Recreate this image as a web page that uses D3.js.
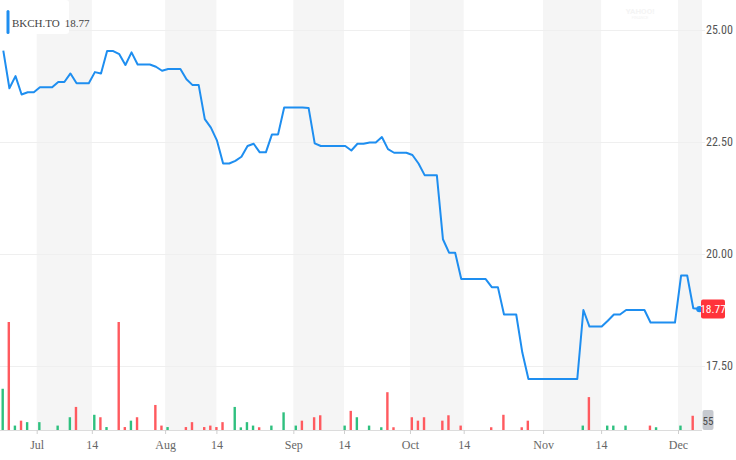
<!DOCTYPE html>
<html>
<head>
<meta charset="utf-8">
<script src="https://cdn.jsdelivr.net/npm/d3@7"></script>
<style>
  html, body { margin: 0; padding: 0; background: #fff; }
  svg { display: block; }
</style>
</head>
<body>
<div id="chart"></div>
<script>
// ---- Data ----
const symbol = "BKCH.TO";
const lastPrice = 18.77;
const lastVolumeLabel = "55";

// daily closing prices (trading days, Jun 22 .. Dec 6)
const prices = [
  24.54, 23.70, 23.97, 23.56, 23.61, 23.61, 23.72, 23.72, 23.72, 23.84,
  23.84, 24.03, 23.81, 23.81, 23.81, 24.06, 24.03, 24.53, 24.53, 24.46,
  24.22, 24.50, 24.23, 24.23, 24.23, 24.18, 24.09, 24.13, 24.13, 24.13,
  23.90, 23.77, 23.77, 23.01, 22.82, 22.53, 22.02, 22.02, 22.08, 22.17,
  22.41, 22.46, 22.27, 22.27, 22.67, 22.67, 23.27, 23.27, 23.27, 23.27,
  23.26, 22.47, 22.41, 22.41, 22.41, 22.41, 22.41, 22.31, 22.46, 22.46,
  22.49, 22.49, 22.61, 22.34, 22.26, 22.26, 22.26, 22.21, 22.02, 21.76,
  21.76, 21.76, 20.33, 20.03, 20.03, 19.44, 19.44, 19.44, 19.44, 19.44,
  19.26, 19.26, 18.65, 18.65, 18.65, 17.80, 17.21, 17.21, 17.21, 17.21,
  17.21, 17.21, 17.21, 17.21, 17.21, 18.75, 18.38, 18.38, 18.38, 18.51,
  18.65, 18.65, 18.75, 18.75, 18.75, 18.75, 18.47, 18.47, 18.47, 18.47,
  18.47, 19.52, 19.52, 18.79, 18.77
];

// daily volume (0 = no trades); direction: 1 up (green), -1 down (red)
const volumes = [
  420, 1100, 45, 95, 80, 0, 80, 0, 0, 45,
  0, 130, 235, 0, 0, 155, 130, 30, 0, 1100,
  30, 95, 130, 0, 0, 255, 45, 30, 0, 0,
  30, 80, 0, 30, 45, 30, 80, 0, 235, 27,
  80, 45, 28, 0, 45, 0, 180, 0, 45, 95,
  0, 130, 150, 0, 0, 0, 45, 195, 130, 0,
  45, 0, 28, 385, 28, 0, 0, 130, 95, 130,
  0, 0, 95, 150, 0, 45, 0, 0, 0, 0,
  28, 0, 155, 0, 0, 28, 95, 0, 0, 0,
  0, 0, 0, 0, 0, 45, 335, 0, 0, 45,
  45, 0, 45, 0, 0, 0, 45, 28, 0, 0,
  0, 45, 0, 145, 0
];
const volumeDir = [
  1, -1, 1, -1, 1, 0, 1, 0, 0, 1,
  0, 1, -1, 0, 0, 1, -1, 1, 0, -1,
  -1, 1, -1, 0, 0, -1, -1, 1, 0, 0,
  -1, -1, 0, -1, -1, -1, -1, 0, 1, 1,
  1, 1, -1, 0, 1, 0, 1, 0, 1, -1,
  0, -1, -1, 0, 0, 0, 1, -1, 1, 0,
  1, 0, 1, -1, -1, 0, 0, -1, -1, -1,
  0, 0, -1, -1, 0, -1, 0, 0, 0, 0,
  -1, 0, -1, 0, 0, -1, -1, 0, 0, 0,
  0, 0, 0, 0, 0, 1, -1, 0, 0, 1,
  1, 0, 1, 0, 0, 0, -1, 1, 0, 0,
  0, 1, 0, -1, 0
];

// x-axis ticks: labels and their positions (in trading-day index units)
const tickLabels = ["Jul", "14", "Aug", "14", "Sep", "14", "Oct", "14", "Nov", "14", "Dec"];
const tickIndex  = [5.47, 14.5, 26.5, 34.9, 47.5, 55.8, 66.6, 75.4, 88.4, 97.9, 110.5];

// y-axis ticks
const priceTicks = [17.5, 20, 22.5, 25];

// ---- Layout ----
const W = 736, H = 460;
const plotLeft = 0, plotRight = 702;
const baseY = 430;

const svg = d3.select("#chart").append("svg")
  .attr("width", W).attr("height", H)
  .attr("viewBox", `0 0 ${W} ${H}`);

const x = d3.scaleLinear().domain([0, prices.length - 1]).range([3.3, 699.4]);
const y = d3.scaleLinear().domain([17.5, 25]).range([366, 30]);
const yv = d3.scaleLinear().domain([0, 1100]).range([baseY, 322]);

// shaded bands (alternating tick intervals)
const bands = [];
for (let i = 0; i < tickIndex.length; i += 2) {
  const x0 = x(tickIndex[i]);
  const x1 = i + 1 < tickIndex.length ? x(tickIndex[i + 1]) : plotRight;
  bands.push([x0, x1]);
}
svg.append("g").selectAll("rect").data(bands).join("rect")
  .attr("x", d => d[0]).attr("y", 0)
  .attr("width", d => d[1] - d[0]).attr("height", baseY)
  .attr("fill", "#f5f5f5");

// watermark
svg.append("text").attr("x", 640).attr("y", 14).attr("text-anchor", "middle")
  .attr("font-family", "Liberation Sans Narrow, Roboto, sans-serif")
  .attr("font-size", 8).attr("font-weight", "bold").attr("fill", "#f4f4f4").text("YAHOO!");
svg.append("text").attr("x", 640).attr("y", 19).attr("text-anchor", "middle")
  .attr("font-family", "Roboto, sans-serif")
  .attr("font-size", 4).attr("fill", "#f4f4f4").text("FINANCE");

// horizontal gridlines
svg.append("g").selectAll("line").data(priceTicks).join("line")
  .attr("x1", plotLeft).attr("x2", plotRight + 3)
  .attr("y1", d => Math.round(y(d)) + 0.5).attr("y2", d => Math.round(y(d)) + 0.5)
  .attr("stroke", "#efefef").attr("stroke-width", 1);

// right axis labels
const yAxis = d3.axisRight(y).tickValues(priceTicks).tickFormat(d3.format(".2f")).tickSize(0).tickPadding(4);
const gy = svg.append("g").attr("transform", `translate(${plotRight},0)`).call(yAxis);
gy.select(".domain").remove();
gy.selectAll("text")
  .attr("font-family", "Liberation Sans Narrow, Roboto Condensed, Roboto, sans-serif")
  .attr("font-size", 12).attr("fill", "#555");

// bottom axis
const xAxis = d3.axisBottom(x).tickValues(tickIndex).tickFormat((d, i) => tickLabels[i]).tickSize(4).tickPadding(6).tickSizeOuter(0);
const gx = svg.append("g").attr("transform", `translate(0,${baseY})`).call(xAxis);
gx.select(".domain").attr("stroke", "#dcdcdc").attr("d", `M${plotLeft},0.5H${plotRight}`);
gx.selectAll(".tick line").attr("stroke", "#cfcfcf");
gx.selectAll("text")
  .attr("font-family", "Liberation Serif, DejaVu Serif, serif")
  .attr("font-size", 12).attr("fill", "#666");

// volume bars
const volData = volumes.map((v, i) => ({ i, v, dir: volumeDir[i] })).filter(d => d.v > 0);
svg.append("g").selectAll("rect").data(volData).join("rect")
  .attr("x", d => x(d.i) - 1.8)
  .attr("y", d => yv(d.v))
  .attr("width", 2.4)
  .attr("height", d => baseY - yv(d.v))
  .attr("fill", d => d.dir > 0 ? "#2fc07f" : "#ff5a5f");

// price line
const line = d3.line().x((d, i) => x(i)).y(d => y(d));
svg.append("path").datum(prices)
  .attr("d", line)
  .attr("fill", "none")
  .attr("stroke", "#1e8ef0")
  .attr("stroke-width", 2)
  .attr("stroke-linejoin", "round");

// end dot
svg.append("circle")
  .attr("cx", x(prices.length - 1)).attr("cy", y(lastPrice))
  .attr("r", 3.2).attr("fill", "#1e8ef0");

// price badge
const badgeY = y(lastPrice);
svg.append("rect").attr("x", 701).attr("y", badgeY - 9.5).attr("width", 24).attr("height", 19)
  .attr("rx", 2).attr("fill", "#ff333a");
svg.append("text").attr("x", 713).attr("y", badgeY + 4)
  .attr("text-anchor", "middle")
  .attr("font-family", "Liberation Sans Narrow, Roboto Condensed, Roboto, sans-serif")
  .attr("font-size", 11.5).attr("fill", "#fff").text(d3.format(".2f")(lastPrice));

// volume badge
svg.append("rect").attr("x", 702.5).attr("y", 410).attr("width", 11).attr("height", 20)
  .attr("rx", 2).attr("fill", "#c6c9cf");
svg.append("text").attr("x", 708).attr("y", 424.5)
  .attr("text-anchor", "middle")
  .attr("font-family", "Liberation Sans Narrow, Roboto Condensed, Roboto, sans-serif")
  .attr("font-size", 11).attr("fill", "#4a4a4a").text(lastVolumeLabel);

// legend
const lg = svg.append("g");
lg.append("rect").attr("x", 0).attr("y", 0).attr("width", 69).attr("height", 34)
  .attr("rx", 3).attr("fill", "#fff");
lg.append("rect").attr("x", 6.5).attr("y", 10).attr("width", 3).attr("height", 24)
  .attr("rx", 1.5).attr("fill", "#1e8ef0");
const lt = lg.append("text").attr("x", 12).attr("y", 27)
  .attr("font-family", "Liberation Serif, DejaVu Serif, serif")
  .attr("font-size", 11).attr("fill", "#444");
lt.append("tspan").text(symbol);
lt.append("tspan").attr("dx", 5).text(d3.format(".2f")(lastPrice));
</script>
</body>
</html>
